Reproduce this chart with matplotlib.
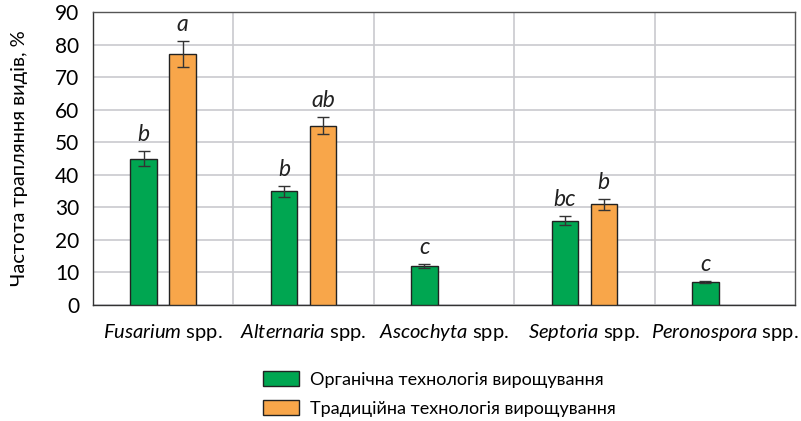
import numpy as np
import matplotlib
matplotlib.use("Agg")
import matplotlib.pyplot as plt
from matplotlib.patches import Patch

plt.rcParams['font.family'] = ['Lato', 'DejaVu Sans']
plt.rcParams['mathtext.fontset'] = 'custom'
plt.rcParams['mathtext.it'] = 'Lato:italic'
plt.rcParams['mathtext.rm'] = 'Lato'

# data
genera = ["Fusarium", "Alternaria", "Ascochyta", "Septoria", "Peronospora"]
organic = [45.0, 34.9, 12.0, 25.9, 7.0]
organic_err = [2.4, 1.8, 0.6, 1.4, 0.3]
organic_letters = ["b", "b", "c", "bc", "c"]
traditional = [77.1, 55.1, 0.0, 30.9, 0.0]
traditional_err = [3.9, 2.7, 0.0, 1.6, 0.0]
traditional_letters = ["a", "ab", "", "b", ""]
series_names = ["Органічна технологія вирощування",
                "Традиційна технологія вирощування"]

green = "#00A651"
orange = "#F8A64A"

fig = plt.figure(figsize=(8.01, 4.21), dpi=100)
ax = fig.add_axes([0.116, 0.2755, 0.8765, 0.696])

x = np.arange(len(genera))
w = 0.19
off = 0.139

#draw the bars with error bars
for vals, errs, letters, col, sign in [
        (organic, organic_err, organic_letters, green, -1),
        (traditional, traditional_err, traditional_letters, orange, 1)]:
    for i in range(len(x)):
        if vals[i] <= 0:
            continue
        ax.bar(x[i] + sign * off, vals[i], width=w, color=col,
               edgecolor="#222222", linewidth=1.0, zorder=3)
        ax.errorbar(x[i] + sign * off, vals[i], yerr=errs[i], fmt="none",
                    ecolor="#333333", elinewidth=1.0, capsize=4,
                    capthick=1.0, zorder=4)
        ax.text(x[i] + sign * off, vals[i] + errs[i] + 1.8, letters[i],
                ha="center", va="bottom", fontsize=16.5, style="italic",
                color="#222222")

ax.set_xlim(-0.5, 4.5)
ax.set_ylim(0, 90)
ax.set_yticks(np.arange(0, 91, 10))
ax.set_xticks(x)
ax.set_xticklabels([r"$\mathit{%s}$ spp." % g for g in genera], fontsize=14.5)
ax.tick_params(axis="x", length=0, pad=12)
ax.tick_params(axis="y", length=0, pad=10, labelsize=15)

#grid: horizontal every 10, vertical between categories
ax.set_xticks(np.arange(0.5, 4.5, 1), minor=True)
ax.grid(axis="y", color="#C9CACE", linewidth=1.2, zorder=0)
ax.grid(axis="x", which="minor", color="#C9CACE", linewidth=1.2, zorder=0)
ax.tick_params(axis="x", which="minor", length=0)

for s in ax.spines.values():
    s.set_color("#555555")
    s.set_linewidth(1.0)
ax.spines["left"].set_color("#333333")
ax.spines["bottom"].set_color("#333333")

ax.set_ylabel("Частота трапляння видів, %", fontsize=14.5, labelpad=19)

handles = [Patch(facecolor=green, edgecolor="#222222"),
           Patch(facecolor=orange, edgecolor="#222222")]
fig.legend(handles, series_names, loc="center", bbox_to_anchor=(0.548, 0.064),
           frameon=False, fontsize=13, ncol=1, handlelength=2.0,
           handleheight=0.9, labelspacing=0.7, handletextpad=0.6)

fig.savefig("out.png", dpi=100)
